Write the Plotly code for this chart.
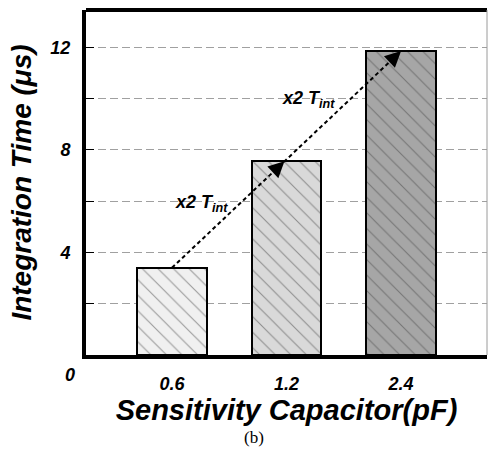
import plotly.graph_objects as go

categories = ["0.6", "1.2", "2.4"]
integration_time = [3.4, 7.55, 11.85]
bar_fill = ["#f0f0f0", "#d9d9d9", "#a6a6a6"]
hatch_color = ["#c4c4c4", "#707070", "#000000"]
y_tickvals = [0, 2, 4, 6, 8, 10, 12]
y_ticktext = ["", "", "4", "", "8", "", "12"]
ratio_label = "x2 T<sub>int</sub>"

FONT = "Arial, Liberation Sans, sans-serif"
xpos = list(range(len(categories)))

fig = go.Figure()
fig.add_trace(go.Bar(
    x=xpos, y=integration_time, width=0.61,
    marker=dict(color=bar_fill, line=dict(color="black", width=2),
                pattern=dict(shape="\\", fgcolor=hatch_color, bgcolor=bar_fill,
                             size=[11, 11, 11], solidity=0.1)),
    showlegend=False,
))

# dashed trend line from first bar top to last bar top
fig.add_trace(go.Scatter(
    x=[xpos[0], xpos[2]], y=[integration_time[0], integration_time[2]],
    mode="lines", line=dict(color="black", width=2, dash="4px,3px"),
    showlegend=False, hoverinfo="skip",
))

slope = (integration_time[2] - integration_time[0]) / (xpos[2] - xpos[0])
x_mid = xpos[0] + (integration_time[1] - integration_time[0]) / slope
tips = [(x_mid, integration_time[1]), (xpos[2], integration_time[2])]
for tx, ty in tips:
    fig.add_annotation(x=tx, y=ty, ax=tx - 0.05, ay=ty - 0.05 * slope,
                       xref="x", yref="y", axref="x", ayref="y",
                       text="", showarrow=True, arrowhead=2, arrowsize=1.6,
                       arrowwidth=2, arrowcolor="black", standoff=0)

lab_font = dict(family=FONT, size=18, color="black", weight="bold", style="italic")
fig.add_annotation(x=0.26, y=5.92, xref="x", yref="y", text=ratio_label,
                   showarrow=False, font=lab_font)
fig.add_annotation(x=1.19, y=9.97, xref="x", yref="y", text=ratio_label,
                   showarrow=False, font=lab_font)

# "0" label below the axis corner
fig.add_annotation(x=0, y=0, xref="paper", yref="y", xshift=-23, yshift=-20,
                   text="0", showarrow=False, font=lab_font)
# caption
fig.add_annotation(x=254, y=437, xref="paper", yref="paper", text="(b)",
                   showarrow=False, xanchor="center", yanchor="middle",
                   font=dict(family="Times New Roman, Liberation Serif, serif", size=17, color="black"))

fig.update_layout(
    width=489, height=450,
    margin=dict(l=86, r=2, t=10, b=95),
    paper_bgcolor="white", plot_bgcolor="white",
    bargap=0,
    xaxis=dict(range=[-0.75, 2.75], tickvals=xpos, ticktext=categories,
               showgrid=False, zeroline=False, showline=True, linecolor="black",
               linewidth=4, ticks="", ticklabelstandoff=9,
               tickfont=lab_font,
               title=dict(text="Sensitivity Capacitor(pF)", standoff=6,
                          font=dict(family=FONT, size=29, color="black",
                                    weight="bold", style="italic"))),
    yaxis=dict(range=[0, 13.45], tickvals=y_tickvals, ticktext=y_ticktext,
               showgrid=True, gridcolor="#a0a0a0", gridwidth=1, griddash="8px,4px",
               zeroline=False, showline=True, linecolor="black", linewidth=4,
               ticks="inside", ticklen=8, tickwidth=1, tickcolor="black",
               ticklabelstandoff=8, tickfont=lab_font,
               title=dict(text="Integration Time (μs)", standoff=12,
                          font=dict(family=FONT, size=28, color="black",
                                    weight="bold", style="italic"))),
    shapes=[
        dict(type="line", xref="paper", yref="paper", x0=0, x1=1, y0=1, y1=1,
             line=dict(color="black", width=4)),
        dict(type="line", xref="paper", yref="paper", x0=1, x1=1, y0=0, y1=1,
             line=dict(color="#9a9a9a", width=1)),
    ],
)

# caption position in pixels -> paper coords
pw = 489 - 86 - 2
ph = 450 - 10 - 95
fig.layout.annotations[-1].x = (254 - 86) / pw
fig.layout.annotations[-1].y = (450 - 95 - 437) / ph

fig.write_html("out.html")
